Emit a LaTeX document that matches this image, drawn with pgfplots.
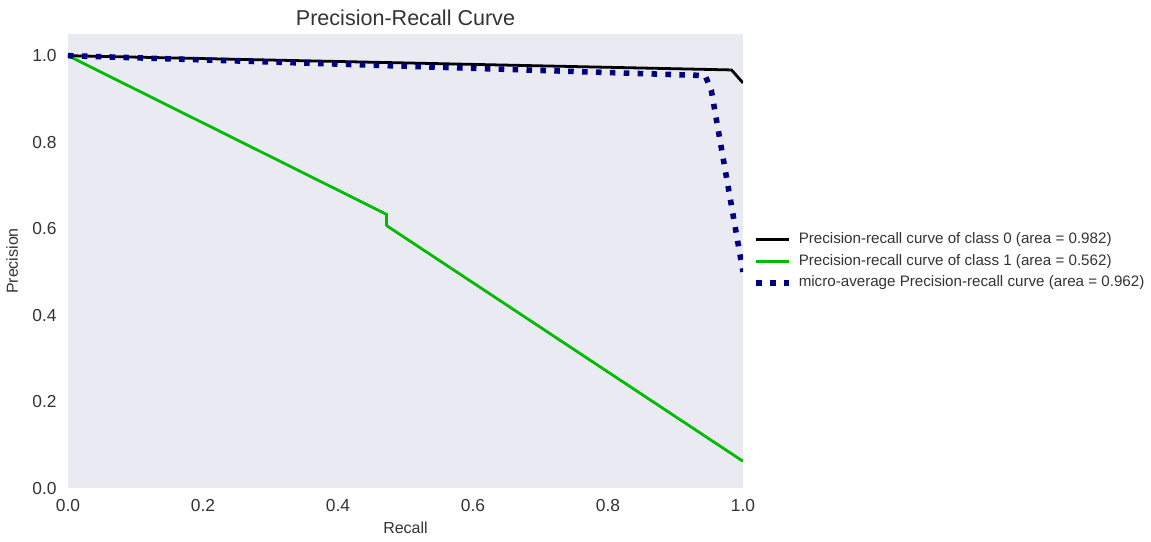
\documentclass[border=0pt]{standalone}
\usepackage{fontspec}
\setmainfont{Liberation Sans}
\usepackage{pgfplots}
\pgfplotsset{compat=1.18}

\definecolor{panelbg}{HTML}{EAEAF2}
\definecolor{classone}{RGB}{0,187,0}
\definecolor{microavg}{RGB}{0,0,128}

\begin{document}
\begin{tikzpicture}
\begin{axis}[
  scale only axis,
  width=485.6pt, height=326.6pt,
  xmin=0, xmax=1, ymin=0, ymax=1.05,
  xtick={0,0.2,0.4,0.6,0.8,1.0},
  ytick={0,0.2,0.4,0.6,0.8,1.0},
  xticklabels={0.0,0.2,0.4,0.6,0.8,1.0},
  yticklabels={0.0,0.2,0.4,0.6,0.8,1.0},
  /pgf/number format/assume math mode=true,
  axis background/.style={fill=panelbg},
  axis line style={draw=none},
  major tick length=0pt,
  tick style={draw=none},
  xticklabel style={font=\fontsize{12.5}{15}\selectfont, color=black!80, anchor=base, yshift=-17pt, inner sep=0pt},
  yticklabel style={font=\fontsize{12.5}{15}\selectfont, color=black!80, anchor=east, xshift=-8pt, inner sep=0pt},
  every axis title/.style={at={(axis description cs:0.5,1.0178)}, anchor=base,
    font=\fontsize{15.5}{18}\selectfont, color=black!80, inner sep=0pt},
  title={Precision-Recall Curve},
  every axis x label/.style={at={(axis description cs:0.5,-0.0992)}, anchor=base,
    font=\fontsize{11.5}{14}\selectfont, color=black!80, inner sep=0pt},
  every axis y label/.style={at={(axis description cs:-0.0741,0.5)}, anchor=base, rotate=90,
    font=\fontsize{11.5}{14}\selectfont, color=black!80, inner sep=0pt},
  xlabel={Recall},
  ylabel={Precision},
  legend cell align=left,
  legend image code/.code={\draw[#1, line cap=butt] (0pt,0pt) -- (23.7pt,0pt);},
  legend style={at={(axis description cs:1,0.4993)}, anchor=west, xshift=7.2pt,
    draw=none, fill=none, inner xsep=0pt, inner ysep=0pt,
    font=\fontsize{10.9}{13}\selectfont, text=black!80,
    nodes={inner sep=0pt, text height=8pt, text depth=2.5pt},
    row sep=5.0pt,
    /tikz/every odd column/.append style={column sep=5pt}},
]
% class 0
\addplot[black, line width=2pt, line join=round] coordinates {
  (0.000,1.000) (0.983,0.967) (1.000,0.937)
};
\addlegendentry{Precision-recall curve of class 0 (area = 0.982)}
% class 1
\addplot[classone, line width=2pt, line join=round] coordinates {
  (0.000,1.000) (0.472,0.633) (0.472,0.607) (1.000,0.062)
};
\addlegendentry{Precision-recall curve of class 1 (area = 0.562)}
% micro-average
\addplot[microavg, line width=4pt, line cap=butt, dash pattern=on 4pt off 6pt] coordinates {
  (0.000,1.000) (0.944,0.954) (0.953,0.920) (1.000,0.500)
};
\addlegendentry{micro-average Precision-recall curve (area = 0.962)}
\end{axis}
\pgfresetboundingbox
\useasboundingbox (-48.9pt,-38.1pt) rectangle (779.1pt,351.1pt);
\end{tikzpicture}
\end{document}
